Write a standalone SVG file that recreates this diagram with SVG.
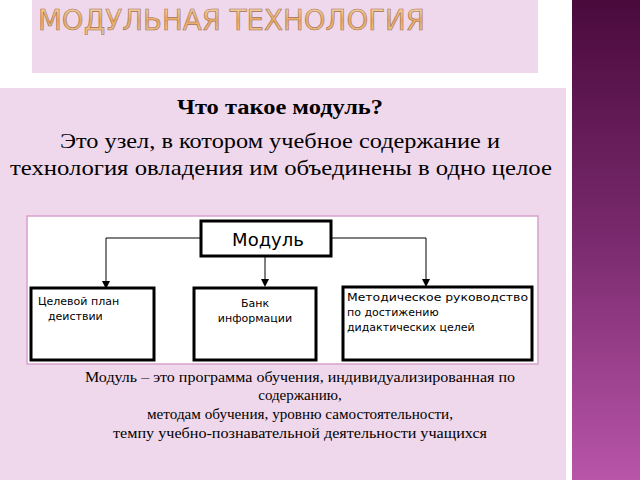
<svg xmlns="http://www.w3.org/2000/svg" width="640" height="480" viewBox="0 0 640 480">
<defs>
<linearGradient id="strip" x1="0" y1="0" x2="0" y2="1"><stop offset="0" stop-color="#4a0a3c"/><stop offset="0.5" stop-color="#7a2a6e"/><stop offset="1" stop-color="#b855a8"/></linearGradient>
<linearGradient id="gold" x1="0" y1="0" x2="0" y2="1"><stop offset="0" stop-color="#f8e0b8"/><stop offset="0.5" stop-color="#e8a860"/><stop offset="1" stop-color="#f4d0a0"/></linearGradient>
<marker id="ar" markerWidth="8" markerHeight="8" refX="4" refY="4" orient="auto" markerUnits="userSpaceOnUse"><path d="M0,0 L8,4 L0,8 z" fill="#000"/></marker>
</defs>
<style>
.box{fill:#fff;stroke:#000;stroke-width:3}
.lbl{font-family:"DejaVu Sans",sans-serif;font-size:11px;fill:#000}
.ser{font-family:"Liberation Serif",serif;fill:#000}
.cn{fill:none;stroke:#000;stroke-width:1}
</style>
<rect width="640" height="480" fill="#fff"/>
<rect x="572" y="0" width="68" height="480" fill="url(#strip)"/>
<rect x="32" y="0" width="506" height="73" fill="#f0d8ec"/>
<text x="38" y="30" font-family="'DejaVu Sans',sans-serif" font-size="28" fill="url(#gold)" stroke="#a07050" stroke-width="0.6" textLength="387" lengthAdjust="spacingAndGlyphs">МОДУЛЬНАЯ ТЕХНОЛОГИЯ</text>
<rect x="0" y="88" width="566" height="392" fill="#f0d8ec"/>
<text class="ser" x="280" y="114" font-size="20" font-weight="bold" text-anchor="middle" textLength="206" lengthAdjust="spacingAndGlyphs">Что такое модуль?</text>
<text class="ser" x="280" y="148" font-size="22" text-anchor="middle" textLength="440" lengthAdjust="spacingAndGlyphs">Это узел, в котором учебное содержание и</text>
<text class="ser" x="281" y="175" font-size="22" text-anchor="middle" textLength="542" lengthAdjust="spacingAndGlyphs">технология овладения им объединены в одно целое</text>
<rect x="27" y="216" width="511" height="148" fill="#fff" stroke="#d8a0cc" stroke-width="1.5"/>
<g id="connectors">
<path class="cn" d="M201,238 H106 V285" stroke-width="1.5" marker-end="url(#ar)"/>
<path class="cn" d="M265,256 V283" marker-end="url(#ar)"/>
<path class="cn" d="M331,238 H426 V283" marker-end="url(#ar)"/>
</g>
<g id="modul"><rect class="box" x="201" y="221" width="130" height="35"/><text x="268" y="246" text-anchor="middle" font-family="'DejaVu Sans',sans-serif" font-size="18">Модуль</text></g>
<g id="plan"><rect class="box" x="31" y="288" width="123" height="72"/><text class="lbl" x="38" y="305">Целевой план</text><text class="lbl" x="48" y="320">деиствии</text></g>
<g id="bank"><rect class="box" x="194" y="288" width="122" height="72"/><text class="lbl" x="255" y="307" text-anchor="middle">Банк</text><text class="lbl" x="255" y="322" text-anchor="middle">информации</text></g>
<g id="method"><rect class="box" x="343" y="287" width="189" height="73"/><text class="lbl" x="347" y="301" textLength="181" lengthAdjust="spacingAndGlyphs">Методическое руководство</text><text class="lbl" x="347" y="316">по достижению</text><text class="lbl" x="347" y="331">дидактических целей</text></g>
<g font-family="'Liberation Serif',serif" font-size="15" text-anchor="middle" fill="#000" lengthAdjust="spacingAndGlyphs">
<text x="300" y="382" textLength="430" lengthAdjust="spacingAndGlyphs">Модуль – это программа обучения, индивидуализированная по</text>
<text x="300" y="400">содержанию,</text>
<text x="300" y="419" textLength="306" lengthAdjust="spacingAndGlyphs">методам обучения, уровню самостоятельности,</text>
<text x="300" y="438" textLength="374" lengthAdjust="spacingAndGlyphs">темпу учебно-познавательной деятельности учащихся</text>
</g>
</svg>
